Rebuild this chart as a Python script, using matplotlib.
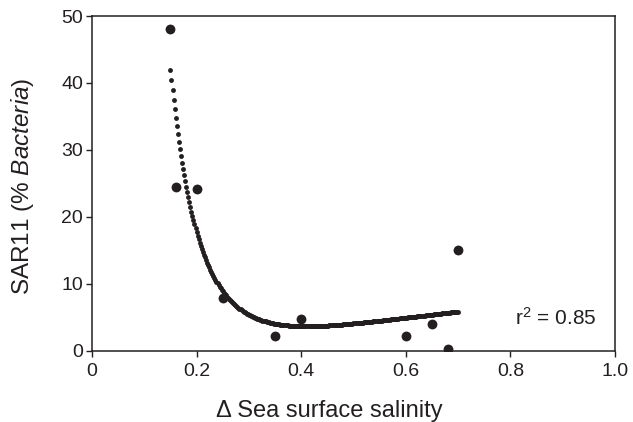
import numpy as np
import matplotlib
matplotlib.use('Agg')
import matplotlib.pyplot as plt

plt.rcParams['font.family'] = ['Liberation Sans', 'DejaVu Sans']
plt.rcParams['mathtext.fontset'] = 'custom'
plt.rcParams['mathtext.rm'] = 'Liberation Sans'
plt.rcParams['mathtext.it'] = 'Liberation Sans:italic'

# data
salinity = np.array([0.15, 0.16, 0.20, 0.25, 0.35, 0.40, 0.60, 0.65, 0.68, 0.70])
sar11 = np.array([48.0, 24.5, 24.2, 7.8, 2.2, 4.7, 2.2, 4.0, 0.2, 15.0])

xticks = [0, 0.2, 0.4, 0.6, 0.8, 1.0]
xticklabels = ['0', '0.2', '0.4', '0.6', '0.8', '1.0']
yticks = [0, 10, 20, 30, 40, 50]

# inverse second order polynomial regression: y = y0 + a/x + b/x^2
coef = np.polyfit(1 / salinity, sar11, 2)
pred = np.polyval(coef, 1 / salinity)
r2 = 1 - np.sum((sar11 - pred) ** 2) / np.sum((sar11 - sar11.mean()) ** 2)

ink = '#231f20'
fig = plt.figure(figsize=(6.33, 4.22), dpi=100)
ax = fig.add_axes([0.1453, 0.169, 0.8263, 0.793])

# fitted curve drawn as closely spaced dots
xs = np.arange(salinity.min(), salinity.max() + 1e-9, 0.002)
ax.plot(xs, np.polyval(coef, 1 / xs), linestyle='none', marker='o',
        ms=3.5, mew=0, color=ink)
ax.scatter(salinity, sar11, s=50, color=ink, linewidths=0, zorder=3)

ax.text(0.965, 4.9, 'r$^2$ = %.2f' % r2, fontsize=15, ha='right', va='center',
        color=ink)

ax.set_xlim(0, 1)
ax.set_ylim(0, 50)
ax.set_xticks(xticks)
ax.set_xticklabels(xticklabels)
ax.set_yticks(yticks)
ax.tick_params(direction='out', length=4.5, width=1, labelsize=14,
               colors=ink)
ax.tick_params(axis='x', pad=4.5)
ax.tick_params(axis='y', pad=2)
for s in ax.spines.values():
    s.set_linewidth(1.1)
    s.set_color(ink)

ax.set_xlabel('\u0394 Sea surface salinity', fontsize=17, color=ink,
              va='center')
ax.xaxis.set_label_coords(0.453, -0.18)
ax.set_ylabel('SAR11 (% $\\mathit{Bacteria}$)', fontsize=17.5, color=ink,
              va='center')
ax.yaxis.set_label_coords(-0.132, 0.49)

fig.savefig('out.png', dpi=100)
